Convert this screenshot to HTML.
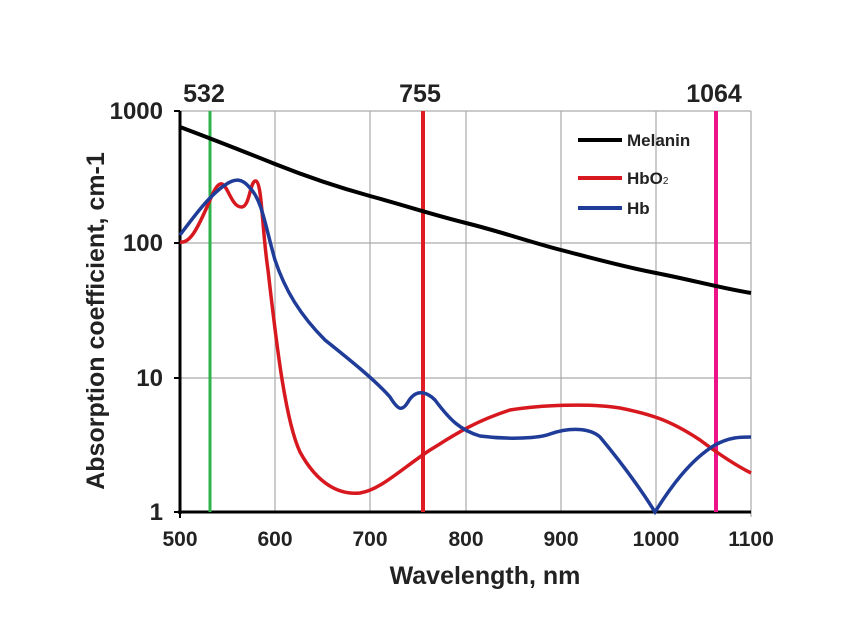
<!DOCTYPE html>
<html><head><style>body{margin:0;background:#fff}svg{display:block}</style></head><body>
<svg width="844" height="619" viewBox="0 0 844 619" font-family="Liberation Sans, Arial, sans-serif" font-weight="bold">
<g stroke="#aaa" stroke-width="1.2">
<line x1="180" y1="111" x2="751" y2="111"/>
<line x1="180" y1="243" x2="751" y2="243"/>
<line x1="180" y1="378" x2="751" y2="378"/>
<line x1="275" y1="111" x2="275" y2="512"/>
<line x1="370" y1="111" x2="370" y2="512"/>
<line x1="466" y1="111" x2="466" y2="512"/>
<line x1="561" y1="111" x2="561" y2="512"/>
<line x1="656" y1="111" x2="656" y2="512"/>
<line x1="751" y1="111" x2="751" y2="517"/>
</g>
<g stroke="#000" stroke-width="2"><line x1="174" y1="111" x2="180" y2="111"/><line x1="174" y1="243" x2="180" y2="243"/><line x1="174" y1="378" x2="180" y2="378"/><line x1="174" y1="512" x2="180" y2="512"/><line x1="180" y1="512" x2="180" y2="518"/></g>
<line x1="180" y1="111" x2="180" y2="514" stroke="#000" stroke-width="3"/>
<line x1="178" y1="512" x2="751" y2="512" stroke="#000" stroke-width="3"/>
<line x1="210" y1="111" x2="210" y2="512" stroke="#2db34a" stroke-width="3"/>
<line x1="423" y1="111" x2="423" y2="512" stroke="#e01b24" stroke-width="4"/>
<line x1="716" y1="111" x2="716" y2="512" stroke="#ee1289" stroke-width="4"/>
<path d="M180,127 C220,142 250,154 275,164 S330,185 370,196 S430,214 466,223 S530,242 561,250 S620,266 656,273 S720,288 751,293" fill="none" stroke="#000" stroke-width="4"/>
<path d="M180,242 C190,244 198,228 210,200 C214,190 218,183 222,184 C228,186 232,208 242,207 C250,206 250,180 256,181 C262,183 262,230 268,270 C276,340 285,420 300,452 C318,485 340,495 360,493 C380,490 400,470 430,450 C450,438 470,423 510,410 C540,405 590,403 620,408 C650,414 670,420 700,440 C720,455 735,465 751,473" fill="none" stroke="#d7191f" stroke-width="3.5"/>
<path d="M180,235 C195,215 210,195 225,185 C235,178 242,178 250,188 C262,200 265,225 275,260 C285,290 300,315 325,340 C350,360 375,380 390,397 C398,410 402,412 408,402 C415,390 425,390 435,400 C450,420 460,430 480,436 C510,440 540,438 550,434 C570,427 590,428 600,437 C615,455 635,480 655,512 C670,488 690,460 715,445 C730,437 740,437 751,437" fill="none" stroke="#1f3c99" stroke-width="3.5"/>
<g stroke-width="4"><line x1="578" y1="140" x2="622" y2="140" stroke="#000"/><line x1="578" y1="178" x2="622" y2="178" stroke="#d7191f"/><line x1="578" y1="208" x2="622" y2="208" stroke="#1f3c99"/></g>
<g font-size="17" fill="#222"><text x="627" y="146">Melanin</text><text x="627" y="184">HbO<tspan font-size="10" font-weight="normal">2</tspan></text><text x="627" y="214">Hb</text></g>
<g font-size="25" fill="#222" text-anchor="middle"><text x="204" y="102">532</text><text x="420" y="102">755</text><text x="714" y="102">1064</text></g>
<g font-size="24" fill="#222" text-anchor="end"><text x="163" y="119">1000</text><text x="163" y="251">100</text><text x="163" y="386">10</text><text x="163" y="520">1</text></g>
<g font-size="21" fill="#222" text-anchor="middle"><text x="180" y="546">500</text><text x="275" y="546">600</text><text x="370" y="546">700</text><text x="466" y="546">800</text><text x="561" y="546">900</text><text x="656" y="546">1000</text><text x="751" y="546">1100</text></g>
<g font-size="25" fill="#222" text-anchor="middle">
<text x="485" y="584">Wavelength, nm</text>
<text transform="translate(104,321) rotate(-90)">Absorption coefficient, cm-1</text></g>
</svg></body></html>
